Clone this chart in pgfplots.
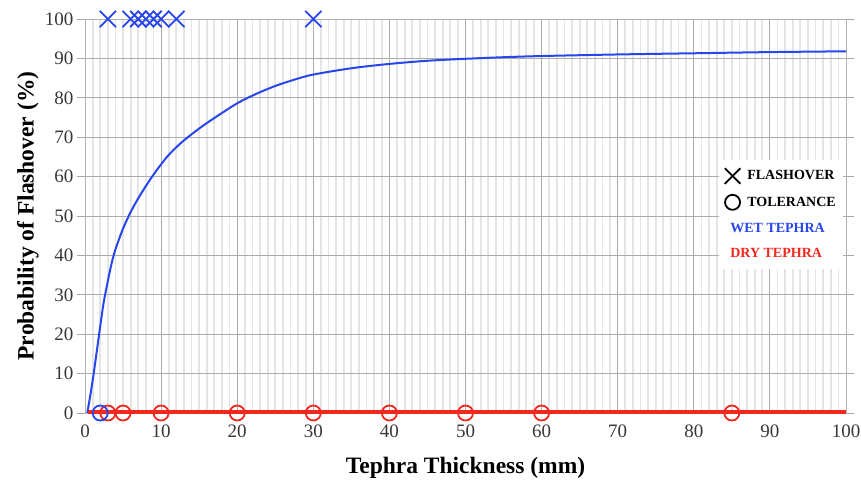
\documentclass[border=0pt]{standalone}
\usepackage{pgfplots}
\pgfplotsset{compat=1.18}
\usepackage{fontspec}
\setmainfont{Liberation Serif}
\definecolor{wetblue}{RGB}{40,70,235}
\definecolor{dryred}{RGB}{240,40,30}
\definecolor{tickgray}{RGB}{55,55,55}
\begin{document}
\begin{tikzpicture}
\begin{axis}[
  scale only axis, width=761pt, height=394pt,
  xmin=0, xmax=100, ymin=0, ymax=100,
  xtick={0,10,...,100}, ytick={0,10,...,100},
  minor x tick num=9,
  grid=both,
  major grid style={gray!65, line width=0.9pt},
  minor grid style={gray!20, line width=1.8pt},
  axis line style={gray!60, line width=0.8pt},
  tick style={gray!70, line width=0.8pt},
  major tick length=8pt, minor tick length=0pt, tick align=outside,
  xtick style={draw=none},
  /pgf/number format/assume math mode=true,
  tick label style={text=tickgray, font=\fontsize{19}{22}\selectfont},
  label style={font=\fontsize{23.5}{26}\selectfont\bfseries},
  xlabel={Tephra Thickness (mm)},
  ylabel={Probability of Flashover (\%)},
  xlabel style={at={(axis description cs:0.5,-0.1396)}, anchor=center},
  ylabel style={at={(axis description cs:-0.0749,0.5)}, anchor=center},
  clip=false,
  legend style={at={(axis cs:99.6,64.2)}, anchor=north east, draw=none, fill=white,
    font=\fontsize{14}{16}\selectfont\bfseries, cells={anchor=west},
    inner xsep=5pt, inner ysep=8pt, row sep=11pt},
]
\addlegendimage{only marks, mark=x, black, mark size=11pt, line width=1.8pt}
\addlegendentry{\hspace{5pt}FLASHOVER}
\addlegendimage{only marks, mark=o, black, mark size=7.5pt, line width=1.8pt}
\addlegendentry{\hspace{5pt}TOLERANCE}
\addlegendimage{empty legend}
\addlegendentry{\hspace{-12pt}\textcolor{wetblue}{WET TEPHRA}}
\addlegendimage{empty legend}
\addlegendentry{\hspace{-12pt}\textcolor{dryred}{DRY TEPHRA}}

\addplot[forget plot, wetblue, line width=2pt, smooth] coordinates {
(0.3,0) (0.7,4.5) (1.1,9.5) (1.5,15) (2,22) (2.45,28) (3,33.5) (3.5,38)
(4,41.5) (5,46.8) (6,51) (7,54.5) (8,57.6) (9,60.5) (10,63.1) (11,65.5)
(12.7,68.7) (15,72.2) (17.1,75) (20,78.6) (22.5,81) (25,83) (27.5,84.6)
(30,85.9) (35,87.5) (40,88.6) (45,89.4) (50,89.9) (55,90.3) (60,90.6)
(70,91) (80,91.3) (90,91.6) (100,91.8)};
\addplot[forget plot, dryred, line width=3.5pt] coordinates {(0.4,0.3) (100,0.3)};
\addplot[forget plot, only marks, mark=o, dryred, mark size=7.5pt, line width=1.8pt]
  coordinates {(3,0) (5,0) (10,0) (20,0) (30,0) (40,0) (50,0) (60,0) (85,0)};
\addplot[forget plot, only marks, mark=o, wetblue, mark size=7.5pt, line width=1.8pt]
  coordinates {(2,0)};
\addplot[forget plot, only marks, mark=x, wetblue, mark size=11.5pt, line width=1.8pt]
  coordinates {(3,100) (6,100) (7,100) (8,100) (9,100) (10,100) (12,100) (30,100)};
\coordinate (bl) at (rel axis cs:0,0);
\end{axis}
\pgfresetboundingbox
\path ([shift={(-85pt,-69pt)}]bl) rectangle ++(861pt,482pt);
\end{tikzpicture}
\end{document}
